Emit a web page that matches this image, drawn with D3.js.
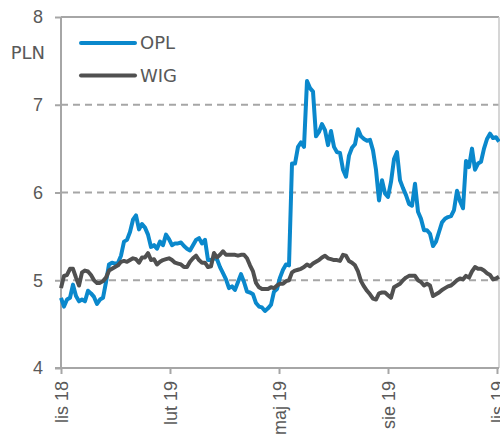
<!DOCTYPE html>
<html>
<head>
<meta charset="utf-8">
<script src="https://cdn.jsdelivr.net/npm/d3@7"></script>
<style>
  body { margin: 0; background: #fff; }
  svg { display: block; font-family: "DejaVu Sans", Verdana, sans-serif; }
  .axis text { fill: #595959; font-size: 18px; }
  .axis path, .axis line { stroke: #a6a6a6; stroke-width: 2; }
</style>
</head>
<body>
<div class="chart"></div>
<script>
// values, one point every ~3 px
var opl = [4.80, 4.70, 4.78, 4.80, 4.95, 4.82, 4.76, 4.78, 4.76, 4.88,
  4.85, 4.81, 4.73, 4.78, 4.80, 4.98, 5.18, 5.20, 5.19, 5.20,
  5.28, 5.44, 5.46, 5.55, 5.69, 5.74, 5.58, 5.64, 5.60, 5.52,
  5.38, 5.40, 5.36, 5.44, 5.40, 5.52, 5.47, 5.40, 5.42, 5.42,
  5.43, 5.39, 5.36, 5.34, 5.40, 5.46, 5.48, 5.42, 5.46, 5.23,
  5.23, 5.25, 5.24, 5.15, 5.08, 5.01, 4.91, 4.93, 4.89, 4.98,
  5.07, 4.98, 4.87, 4.86, 4.84, 4.74, 4.70, 4.69, 4.65, 4.68,
  4.72, 4.87, 4.90, 5.03, 5.12, 5.18, 5.17, 6.33, 6.33, 6.52,
  6.57, 6.52, 7.27, 7.19, 7.15, 6.64, 6.69, 6.78, 6.71, 6.54,
  6.70, 6.52, 6.46, 6.45, 6.26, 6.18, 6.42, 6.51, 6.55, 6.72,
  6.64, 6.61, 6.59, 6.60, 6.48, 6.26, 5.91, 6.14, 5.99, 5.95,
  6.12, 6.38, 6.46, 6.14, 6.05, 5.97, 5.87, 5.85, 6.10, 5.78,
  5.70, 5.57, 5.57, 5.53, 5.39, 5.44, 5.55, 5.66, 5.70, 5.72,
  5.73, 5.80, 6.02, 5.90, 5.82, 6.36, 6.29, 6.50, 6.26, 6.33,
  6.35, 6.50, 6.61, 6.67, 6.62, 6.63, 6.58];

var wig = [4.91, 5.05, 5.06, 5.13, 5.13, 5.03, 4.94, 5.09, 5.11, 5.10,
  5.06, 5.00, 4.97, 4.97, 4.99, 5.03, 5.11, 5.13, 5.15, 5.17,
  5.21, 5.22, 5.21, 5.23, 5.25, 5.24, 5.20, 5.26, 5.26, 5.31,
  5.23, 5.24, 5.18, 5.21, 5.23, 5.24, 5.25, 5.23, 5.20, 5.19,
  5.18, 5.15, 5.15, 5.21, 5.25, 5.28, 5.23, 5.20, 5.20, 5.15,
  5.16, 5.31, 5.26, 5.29, 5.33, 5.29, 5.29, 5.29, 5.29, 5.28,
  5.29, 5.29, 5.25, 5.17, 5.10, 4.97, 4.92, 4.90, 4.90, 4.90,
  4.92, 4.91, 4.94, 4.96, 4.96, 4.99, 5.00, 5.09, 5.11, 5.12,
  5.13, 5.15, 5.18, 5.16, 5.19, 5.21, 5.23, 5.26, 5.28, 5.25,
  5.24, 5.23, 5.23, 5.22, 5.29, 5.28, 5.22, 5.20, 5.17, 5.10,
  4.99, 4.93, 4.88, 4.84, 4.79, 4.78, 4.85, 4.86, 4.86, 4.83,
  4.80, 4.92, 4.94, 4.96, 5.00, 5.03, 5.05, 5.05, 5.05, 5.00,
  4.98, 4.94, 4.96, 4.94, 4.82, 4.84, 4.86, 4.89, 4.91, 4.93,
  4.94, 4.97, 5.00, 5.02, 5.01, 5.05, 5.03, 5.10, 5.15, 5.13,
  5.13, 5.11, 5.08, 5.06, 5.01, 5.02, 5.04];

var xLabels = ['lis 18', 'lut 19', 'maj 19', 'sie 19', 'lis 19']
  , xTickIdx = [0, 36.33, 72.67, 109, 145.33]
  , yTicks = [4, 5, 6, 7, 8]
  , seriesNames = ['OPL', 'WIG']
  , seriesColors = ['#0a88cc', '#505050'];

var w = 500
  , h = 441
  , plotL = 61
  , plotR = 499
  , plotT = 17
  , plotB = 368;

var svg = d3.select('.chart').append('svg')
            .attr('width', w)
            .attr('height', h);

var x = d3.scaleLinear().domain([0, opl.length - 1]).range([plotL, plotR]);
var y = d3.scaleLinear().domain([4, 8]).range([plotB, plotT]);

// dashed grid for the inner levels, solid line at the top
svg.append('g').selectAll('line')
    .data(yTicks.slice(1))
    .enter()
    .append('line')
    .attr('x1', plotL)
    .attr('x2', plotR)
    .attr('y1', function (d) { return y(d); })
    .attr('y2', function (d) { return y(d); })
    .attr('stroke', '#a6a6a6')
    .attr('stroke-width', 2)
    .attr('stroke-dasharray', function (d) { return d === 8 ? null : '7,5'; });

// right border
svg.append('line')
    .attr('x1', plotR).attr('x2', plotR)
    .attr('y1', plotT).attr('y2', plotB)
    .attr('stroke', '#c8c8c8')
    .attr('stroke-width', 1.5);

var yAxis = svg.append('g')
    .attr('class', 'axis')
    .attr('transform', 'translate(' + plotL + ',0)')
    .call(d3.axisLeft(y).tickValues(yTicks).tickSize(6).tickPadding(12).tickFormat(d3.format('d')));
yAxis.select('.domain').attr('d', 'M0,' + plotT + 'V' + plotB);

var xAxis = svg.append('g')
    .attr('class', 'axis')
    .attr('transform', 'translate(0,' + plotB + ')')
    .call(d3.axisBottom(x).tickValues(xTickIdx).tickSize(6)
      .tickFormat(function (d, i) { return xLabels[i]; }));
xAxis.select('.domain').attr('d', 'M' + (plotL - 6) + ',0H' + plotR);
xAxis.selectAll('text')
    .attr('text-anchor', 'end')
    .attr('transform', 'rotate(-90)')
    .attr('x', -13)
    .attr('y', 0)
    .attr('dy', '0.36em');

svg.append('text')
    .attr('x', 45)
    .attr('y', 59)
    .attr('text-anchor', 'end')
    .attr('fill', '#595959')
    .style('font-size', '18px')
    .text('PLN');

var line = d3.line()
    .x(function (d, i) { return x(i); })
    .y(function (d) { return y(d); });

[opl, wig].forEach(function (s, k) {
  svg.append('path')
      .datum(s)
      .attr('fill', 'none')
      .attr('stroke', seriesColors[k])
      .attr('stroke-width', 4)
      .attr('stroke-linejoin', 'round')
      .attr('d', line);
});

// legend
var legend = svg.append('g').selectAll('g')
    .data(seriesNames)
    .enter()
    .append('g')
    .attr('transform', function (d, i) { return 'translate(81,' + (43 + i * 32.5) + ')'; });

legend.append('line')
    .attr('x1', 0).attr('x2', 54)
    .attr('stroke', function (d, i) { return seriesColors[i]; })
    .attr('stroke-width', 4)
    .attr('stroke-linecap', 'round');

legend.append('text')
    .attr('x', 59)
    .attr('dy', '0.36em')
    .attr('fill', '#595959')
    .style('font-size', '18px')
    .text(function (d) { return d; });
</script>
</body>
</html>
